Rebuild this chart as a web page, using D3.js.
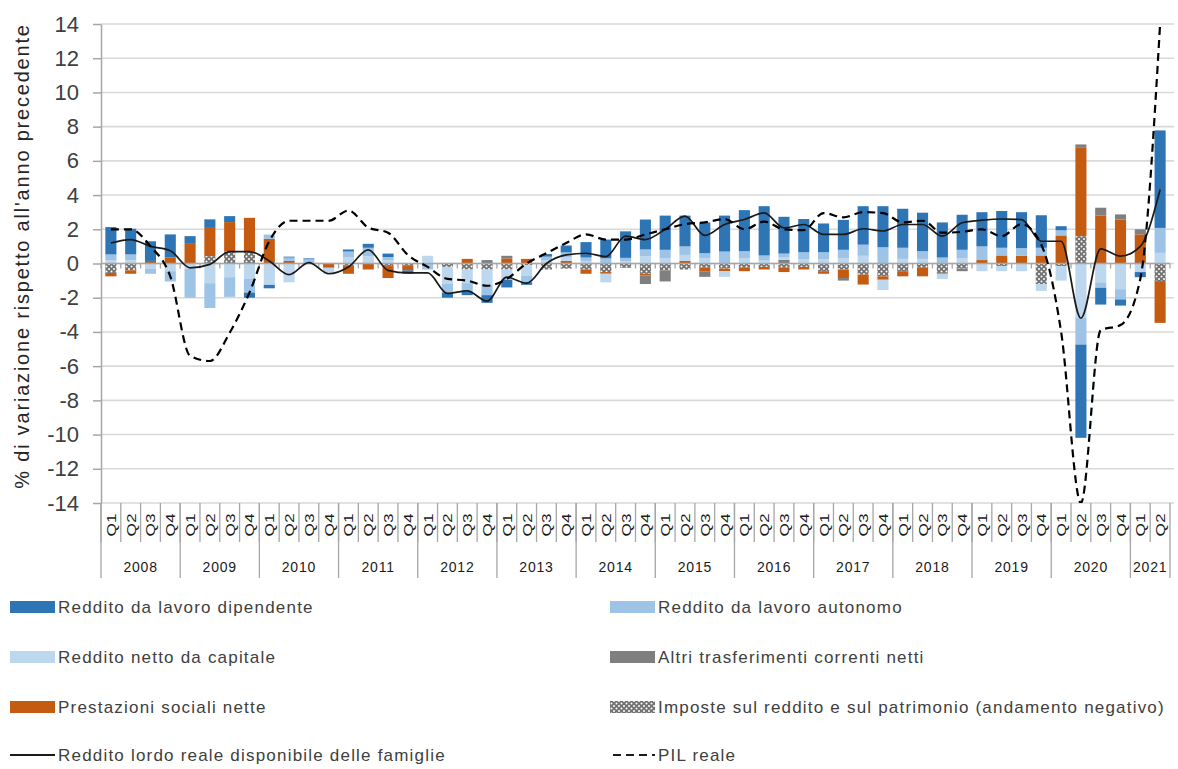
<!DOCTYPE html>
<html>
<head>
<meta charset="utf-8">
<script src="https://cdnjs.cloudflare.com/ajax/libs/d3/7.8.5/d3.min.js"></script>
<style>
  html, body { margin: 0; padding: 0; background: #fff; }
  svg { display: block; font-family: "Liberation Sans", Arial, sans-serif; }
</style>
</head>
<body>
<svg id="chart" width="1178" height="769"></svg>
<script>
// tick labels
const years = ["2008","2009","2010","2011","2012","2013","2014","2015","2016","2017","2018","2019","2020","2021"];
const quarterLabels = ["Q1","Q2","Q3","Q4"];
const quartersInLastYear = 2;
const yTicks = [-14,-12,-10,-8,-6,-4,-2,0,2,4,6,8,10,12,14];

// components, percentage points (2008 Q1 .. 2021 Q2)
const dipendente = [1.6,1.5,1.15,1.35,0.45,0.5,0.35,-0.3,-0.2,0.05,0.05,0,0.12,0.23,0.2,-0.2,0,-0.3,-0.2,-0.45,-0.45,-0.15,0.15,0.4,0.9,1.1,1.55,1.75,2.0,1.8,1.8,2.1,2.4,2.88,2.15,1.94,1.68,1.75,2.25,2.4,2.28,2.25,2.05,2.05,2.0,2.15,2.1,1.9,0.24,-5.45,-0.98,-0.36,-0.3,5.7];
const autonomo = [0.35,0.35,-0.3,-0.6,-1.7,-1.45,-1.15,-0.8,0.25,0.2,0.25,0,0.35,0.5,0.2,0,-0.35,-0.5,-0.5,-0.6,0,-0.4,0.2,0.3,0.2,0.3,0.2,0.4,0.5,0.5,0.3,0.7,0.4,0.3,0.2,0.4,0.4,0.5,0.65,0.95,0.65,0.45,0.35,0.5,0.8,0.45,0.45,0.45,0.3,-1.56,-0.32,-0.6,0,1.46];
const capitale = [0.18,0.18,-0.3,-0.45,-0.3,-1.15,-0.8,-0.9,-1.25,-1.1,-0.05,-0.35,0.35,0.42,0.18,0,0.45,-1.0,-0.8,-0.9,-0.6,-0.6,0.2,0.2,0.15,-0.5,0.13,0.42,0.3,0.35,0.3,-0.33,0.32,0.17,0.16,0.26,0.26,0.3,0.45,-0.6,0.27,0.27,-0.3,0.3,-0.45,-0.3,-0.45,-0.4,-0.85,-3.18,-1.1,-1.5,-0.5,0.62];
const altri = [0,0,0,0,0,0,0,0,0,0,0,0,0,0,0,0,0,0,0,0.2,0.15,0,0,0,0,0,0,-0.5,-0.65,0,-0.33,0,0,0,0.22,0,0,-0.15,0,0,0,0,0,-0.15,0,0,0,0,0,0.2,0.45,0.3,0.3,0];
const prestazioni = [-0.2,-0.2,0.15,0.35,1.15,1.65,1.7,1.95,1.44,0.15,0,-0.25,-0.5,-0.35,-0.7,-0.3,0,0,0.27,0,0.3,0.27,0,0.15,-0.25,-0.1,0,-0.1,0,0.15,-0.2,-0.15,-0.2,-0.15,-0.25,-0.15,-0.15,-0.5,-0.58,-0.2,-0.3,-0.5,-0.05,0,0.2,0.47,0.45,0.47,1.64,5.16,2.81,2.57,1.7,-2.44];
const imposte = [-0.55,-0.4,0,0,0,0.43,0.72,0.72,0,0,0,0,-0.1,0,-0.15,-0.1,0,-0.2,-0.35,-0.35,-0.35,-0.1,-0.35,-0.3,-0.35,-0.5,-0.25,-0.6,-0.4,-0.35,-0.25,-0.3,-0.25,-0.2,-0.25,-0.2,-0.45,-0.35,-0.65,-0.75,-0.45,-0.25,-0.55,-0.3,0,-0.15,0,-1.2,-0.15,1.6,0,0,0,-1.03];

// lines
const redditoLordo = [1.2,1.4,1.0,0.75,-0.25,-0.05,0.7,0.7,0.15,-0.65,0.05,-0.6,-0.2,0.8,-0.4,-0.55,-0.55,-1.75,-1.6,-2.2,-0.8,-1.15,0,0.5,0.6,0.4,1.6,1.4,2.0,2.77,1.64,2.28,2.57,2.96,2.08,2.28,1.7,1.7,2.03,1.9,2.28,2.28,1.6,2.38,2.53,2.6,2.57,1.3,1.3,-3.2,0.86,0.43,1.0,4.33];
const pilReale = [2.0,2.0,1.0,-0.75,-5.4,-5.7,-4.05,-1.7,1.3,2.5,2.5,2.5,3.1,2.1,1.8,0.5,-0.2,-0.9,-1.0,-1.3,-0.9,0.0,0.6,1.2,1.7,1.4,1.4,1.7,2.0,2.3,2.4,2.6,2.0,2.45,2.0,1.95,2.95,2.7,3.0,2.95,2.4,2.5,1.8,1.85,2.0,1.6,2.3,1.1,-4.0,-14,-3.9,-3.6,-0.9,14];

// categories built from the tick label lists
const categories = years.flatMap((yr, yi) =>
  quarterLabels.slice(0, yi === years.length - 1 ? quartersInLastYear : 4)
    .map(q => ({ key: yr + q, year: yr, q: q })));

// stacking order (closest to zero first)
const series = [
  { key: "imp", values: imposte, fill: "url(#dots)" },
  { key: "prest", values: prestazioni, fill: "#c55a11" },
  { key: "altri", values: altri, fill: "#7f7f7f" },
  { key: "cap", values: capitale, fill: "#bdd7ee" },
  { key: "aut", values: autonomo, fill: "#9dc3e6" },
  { key: "dip", values: dipendente, fill: "#2e75b6" }
];
const fillOf = Object.fromEntries(series.map(s => [s.key, s.fill]));

const table = categories.map((c, i) => {
  const row = { key: c.key };
  series.forEach(s => { row[s.key] = s.values[i]; });
  return row;
});

const svg = d3.select("#chart");

const defs = svg.append("defs");
const pat = defs.append("pattern")
  .attr("id", "dots").attr("patternUnits", "userSpaceOnUse")
  .attr("width", 5).attr("height", 5);
pat.append("rect").attr("width", 5).attr("height", 5).attr("fill", "#737373");
pat.append("circle").attr("cx", 1.5).attr("cy", 1.5).attr("r", 1).attr("fill", "#fff");
pat.append("circle").attr("cx", 4).attr("cy", 4).attr("r", 1).attr("fill", "#fff");

const plot = { left: 101, right: 1170, top: 24, bottom: 503 };

defs.append("clipPath").attr("id", "plotclip")
  .append("rect")
  .attr("x", plot.left).attr("y", plot.top)
  .attr("width", plot.right - plot.left).attr("height", plot.bottom - plot.top);

const x = d3.scaleBand()
  .domain(categories.map(c => c.key))
  .range([plot.left, plot.right])
  .paddingInner(0.44)
  .paddingOuter(0.22);

const y = d3.scaleLinear().domain([-14, 14]).range([plot.bottom, plot.top]);

const edge = k => x(k) - (x.step() - x.bandwidth()) / 2;
const mid = k => x(k) + x.bandwidth() / 2;

// gridlines
svg.append("g")
  .selectAll("line")
  .data(yTicks)
  .join("line")
  .attr("x1", plot.left).attr("x2", plot.right + 4)
  .attr("y1", d => y(d)).attr("y2", d => y(d))
  .attr("stroke", "#d9d9d9")
  .attr("stroke-width", 1.6);

// y axis
const yAxis = svg.append("g")
  .attr("transform", `translate(${plot.left},0)`)
  .call(d3.axisLeft(y).tickValues(yTicks).tickFormat(d => String(d))
    .tickSize(8).tickSizeOuter(0).tickPadding(14));
yAxis.select(".domain").attr("stroke", "#a6a6a6").attr("stroke-width", 1.5);
yAxis.selectAll(".tick line").attr("stroke", "#a6a6a6").attr("stroke-width", 1.5);
yAxis.selectAll(".tick text")
  .attr("fill", "#404040")
  .style("font-size", "22px");

svg.append("text")
  .attr("transform", `translate(22,256) rotate(-90)`)
  .attr("text-anchor", "middle")
  .attr("dominant-baseline", "central")
  .attr("fill", "#262626")
  .style("font-size", "20px")
  .style("letter-spacing", "1.8px")
  .text("% di variazione rispetto all'anno precedente");

// stacked bars
const stacked = d3.stack()
  .keys(series.map(s => s.key))
  .offset(d3.stackOffsetDiverging)(table);

svg.append("g")
  .selectAll("g")
  .data(stacked)
  .join("g")
  .attr("fill", d => fillOf[d.key])
  .selectAll("rect")
  .data(d => d)
  .join("rect")
  .attr("x", d => x(d.data.key))
  .attr("width", x.bandwidth())
  .attr("y", d => y(Math.max(d[0], d[1])))
  .attr("height", d => Math.abs(y(d[0]) - y(d[1])));

// zero axis with tick marks at category boundaries
const zeroAxis = svg.append("g");
zeroAxis.append("line")
  .attr("x1", plot.left).attr("x2", plot.right)
  .attr("y1", y(0)).attr("y2", y(0))
  .attr("stroke", "#a6a6a6").attr("stroke-width", 1.6);
zeroAxis.selectAll(".zt")
  .data(categories.map(c => edge(c.key)).concat([plot.right]))
  .join("line")
  .attr("class", "zt")
  .attr("x1", d => d).attr("x2", d => d)
  .attr("y1", y(0)).attr("y2", y(0) + 5)
  .attr("stroke", "#a6a6a6").attr("stroke-width", 1.3);

// lines
const lineGen = d3.line()
  .x((d, i) => mid(categories[i].key))
  .y(d => y(d))
  .curve(d3.curveMonotoneX);

const lines = svg.append("g").attr("clip-path", "url(#plotclip)");
lines.append("path")
  .datum(redditoLordo)
  .attr("fill", "none")
  .attr("stroke", "#1a1a1a")
  .attr("stroke-width", 1.7)
  .attr("d", lineGen);
lines.append("path")
  .datum(pilReale)
  .attr("fill", "none")
  .attr("stroke", "#000")
  .attr("stroke-width", 2.2)
  .attr("stroke-dasharray", "8,5")
  .attr("d", lineGen);

// category axis at the bottom: quarters and years
const catAxis = svg.append("g");
catAxis.selectAll(".qsep")
  .data(categories)
  .join("line")
  .attr("class", "qsep")
  .attr("x1", d => edge(d.key)).attr("x2", d => edge(d.key))
  .attr("y1", plot.bottom).attr("y2", plot.bottom + 39)
  .attr("stroke", "#a6a6a6").attr("stroke-width", 1.3);

catAxis.selectAll(".qlab")
  .data(categories)
  .join("text")
  .attr("class", "qlab")
  .attr("transform", d => `translate(${mid(d.key) + 1},${plot.bottom + 22}) rotate(-90)`)
  .attr("text-anchor", "middle")
  .attr("dominant-baseline", "central")
  .attr("fill", "#1a1a1a")
  .attr("textLength", 23)
  .attr("lengthAdjust", "spacingAndGlyphs")
  .style("font-size", "12px")
  .text(d => d.q);

const yearGroups = d3.groups(categories, c => c.year).map(([yr, cs]) => ({
  year: yr,
  x0: edge(cs[0].key),
  x1: edge(cs[cs.length - 1].key) + x.step()
}));

catAxis.selectAll(".ysep")
  .data(yearGroups.map(g => g.x0).concat([yearGroups[yearGroups.length - 1].x1]))
  .join("line")
  .attr("class", "ysep")
  .attr("x1", d => d).attr("x2", d => d)
  .attr("y1", plot.bottom).attr("y2", plot.bottom + 75)
  .attr("stroke", "#a6a6a6").attr("stroke-width", 1.3);

catAxis.selectAll(".ylab")
  .data(yearGroups)
  .join("text")
  .attr("class", "ylab")
  .attr("x", d => (d.x0 + d.x1) / 2)
  .attr("y", plot.bottom + 64)
  .attr("text-anchor", "middle")
  .attr("dominant-baseline", "central")
  .attr("fill", "#1a1a1a")
  .style("font-size", "14px")
  .style("letter-spacing", "0.8px")
  .text(d => d.year);

// legend
const legendItems = [
  { name: "Reddito da lavoro dipendente", type: "rect", fill: fillOf.dip, col: 0, row: 0 },
  { name: "Reddito da lavoro autonomo", type: "rect", fill: fillOf.aut, col: 1, row: 0 },
  { name: "Reddito netto da capitale", type: "rect", fill: fillOf.cap, col: 0, row: 1 },
  { name: "Altri trasferimenti correnti netti", type: "rect", fill: fillOf.altri, col: 1, row: 1 },
  { name: "Prestazioni sociali nette", type: "rect", fill: fillOf.prest, col: 0, row: 2 },
  { name: "Imposte sul reddito e sul patrimonio (andamento negativo)", type: "rect", fill: fillOf.imp, col: 1, row: 2 },
  { name: "Reddito lordo reale disponibile delle famiglie", type: "solid", col: 0, row: 3 },
  { name: "PIL reale", type: "dash", col: 1, row: 3 }
];
const colX = [10, 610];
const rowY = [607, 657, 707, 755];

const legend = svg.append("g")
  .selectAll("g")
  .data(legendItems)
  .join("g")
  .attr("transform", d => `translate(${colX[d.col]},${rowY[d.row]})`);

legend.filter(d => d.type === "rect")
  .append("rect")
  .attr("x", 0).attr("y", -6)
  .attr("width", 45).attr("height", 12)
  .attr("fill", d => d.fill);

legend.filter(d => d.type !== "rect")
  .append("line")
  .attr("x1", d => d.type === "dash" ? 3 : 0).attr("x2", 45)
  .attr("y1", 0).attr("y2", 0)
  .attr("stroke", "#1a1a1a")
  .attr("stroke-width", d => d.type === "dash" ? 2.2 : 1.8)
  .attr("stroke-dasharray", d => d.type === "dash" ? "8,5" : null);

legend.append("text")
  .attr("x", 48)
  .attr("y", 0)
  .attr("dominant-baseline", "central")
  .attr("fill", "#404040")
  .style("font-size", "17px")
  .style("letter-spacing", "1.2px")
  .text(d => d.name);
</script>
</body>
</html>
